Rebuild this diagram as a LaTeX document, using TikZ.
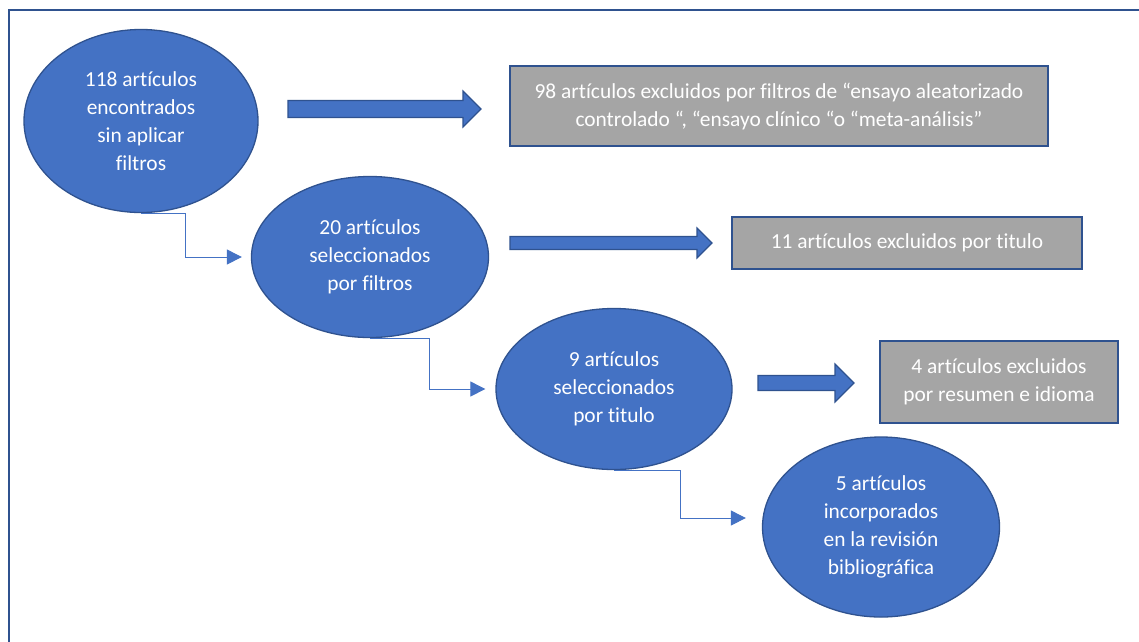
\documentclass[tikz,border=0pt]{standalone}
\usepackage{fontspec}
\setmainfont{Carlito}[Ligatures=NoCommon]
\usetikzlibrary{arrows.meta,shapes.geometric}

\definecolor{azul}{HTML}{4472C4}
\definecolor{azulosc}{HTML}{2F528F}
\definecolor{gris}{HTML}{A5A5A5}

\tikzset{
  etapa/.style={ellipse, draw=azulosc, line width=1.3pt, fill=azul, text=white,
    align=center, inner sep=0pt, font=\fontsize{21.4}{28}\selectfont},
  excluidos/.style={rectangle, draw=azulosc, line width=1.6pt, fill=gris, text=white,
    align=center, inner sep=0pt, font=\fontsize{21.4}{28}\selectfont},
  conector/.style={draw=azul, line width=1pt, -{Triangle[length=15pt,width=15pt]}},
  flecha/.style={draw=azulosc, line width=1.2pt, fill=azul},
}

% block arrow: x start, x tip, y, half shaft width, half head width
\newcommand{\bloque}[5]{%
  \draw[flecha] (#1,#3-#4) -- (#2-#5,#3-#4) -- (#2-#5,#3-#5) -- (#2,#3)
    -- (#2-#5,#3+#5) -- (#2-#5,#3+#4) -- (#1,#3+#4) -- cycle;}

\begin{document}
\begin{tikzpicture}[x=1pt,y=-1pt]
  \useasboundingbox[fill=white] (0,0) rectangle (1139,641);

  % frame
  \draw[azulosc, line width=2.5pt] (1145,10) -- (9,10) -- (9,650);

  % stages
  \node[etapa, minimum width=234, minimum height=183] (e1) at (141,121)
    {118 artículos\\encontrados\\sin aplicar\\filtros};
  \node[etapa, minimum width=237, minimum height=161] (e2) at (370,257)
    {20 artículos\\seleccionados\\por filtros};
  \node[etapa, minimum width=236, minimum height=161] (e3) at (614,389)
    {9 artículos\\seleccionados\\por titulo};
  \node[etapa, minimum width=237, minimum height=180] (e4) at (881,527)
    {5 artículos\\incorporados\\en la revisión\\bibliográfica};

  % excluded
  \node[excluidos, minimum width=538, minimum height=80] (x1) at (779,106)
    {98 artículos excluidos por filtros de “ensayo aleatorizado\\controlado “, “ensayo clínico “o “meta-análisis”};
  \node[excluidos, minimum width=350, minimum height=52] (x2) at (907,243)
    {11 artículos excluidos por titulo};
  \node[excluidos, minimum width=238, minimum height=82] (x3) at (999,382)
    {4 artículos excluidos\\por resumen e idioma};

  % block arrows
  \bloque{288}{481}{109}{8.5}{18}
  \bloque{510}{712}{243}{6.5}{15}
  \bloque{758}{854}{383}{7.5}{19}

  % elbow connectors
  \draw[conector] (e1.south) -- ++(44,0) |- ([xshift=-9pt]e2.west);
  \draw[conector] (e2.south) -- ++(59,0) |- ([xshift=-10pt]e3.west);
  \draw[conector] (e3.south) -- ++(66,0) |- ([xshift=-16pt,yshift=9pt]e4.west);
\end{tikzpicture}
\end{document}
